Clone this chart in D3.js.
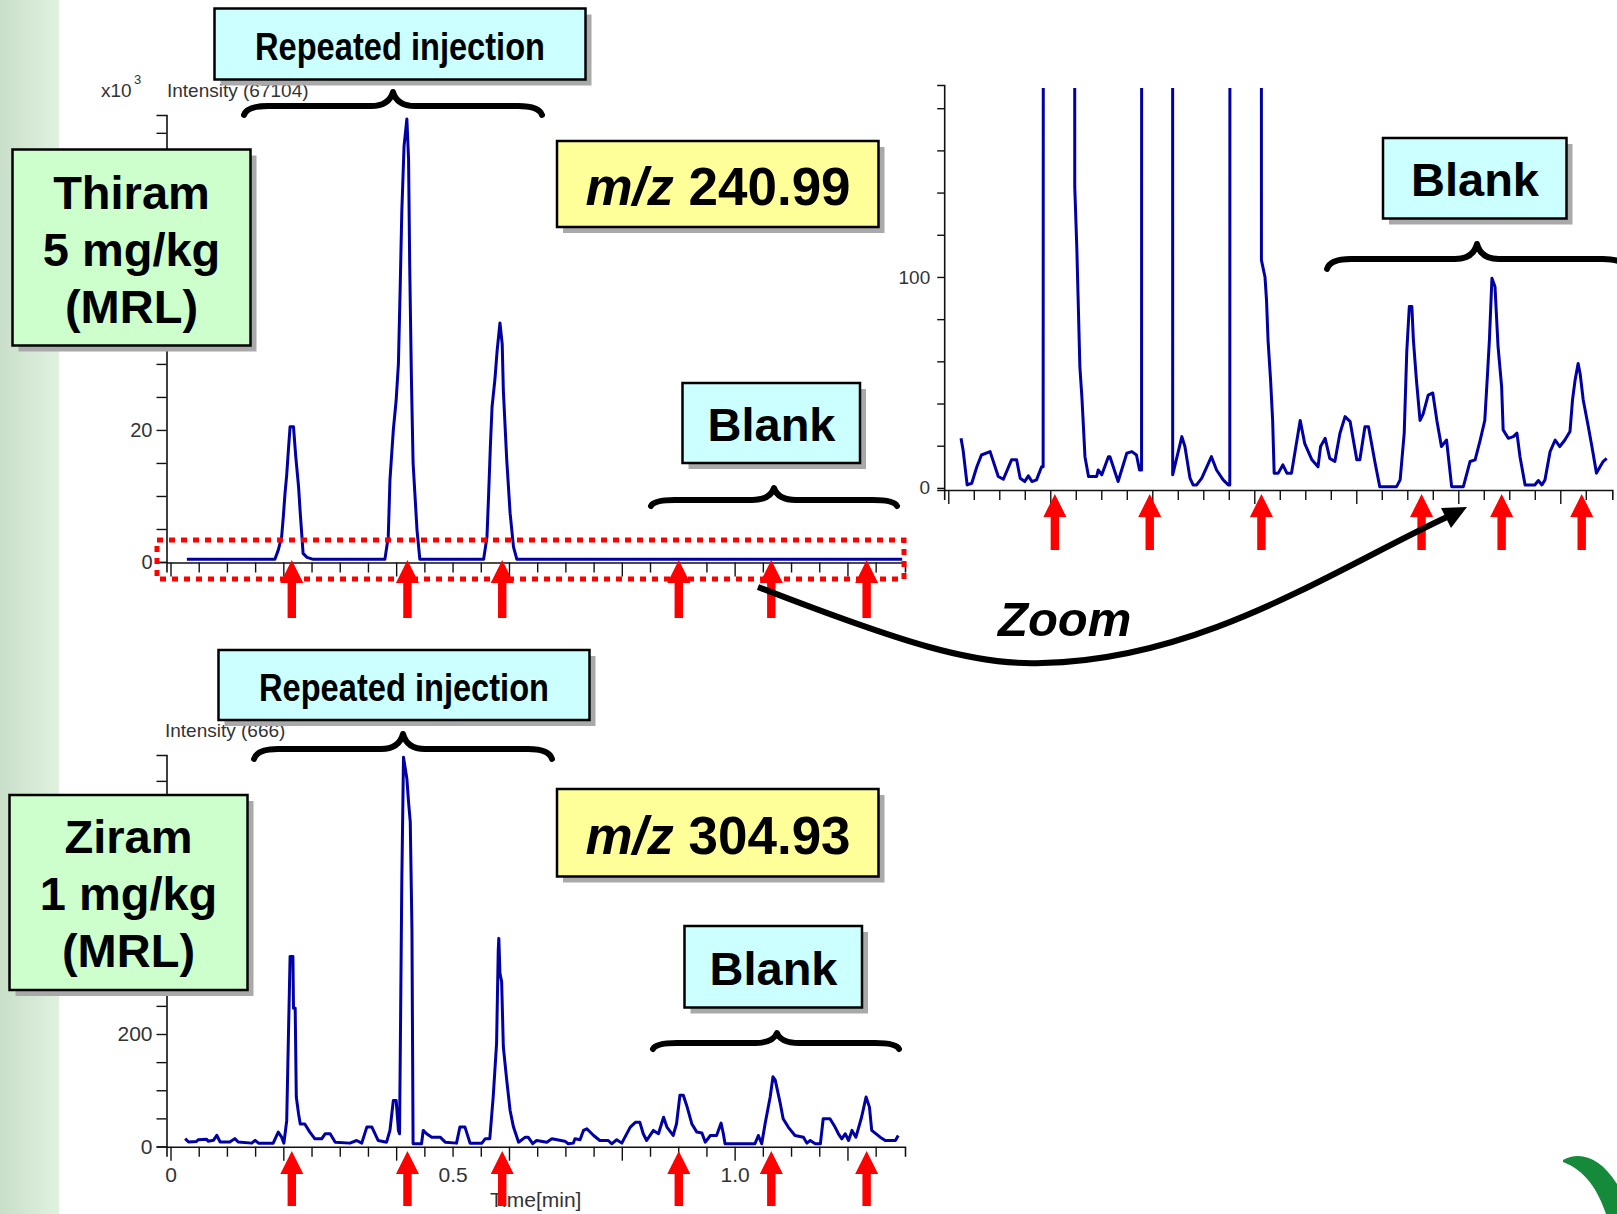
<!DOCTYPE html>
<html>
<head>
<meta charset="utf-8">
<script src="https://cdn.jsdelivr.net/npm/d3@7"></script>
<style>
  body { margin: 0; background: #fff; }
  svg { display: block; }
</style>
</head>
<body>
<svg id="slide" width="1617" height="1214"></svg>
<script>
// ---- data ----
// Thiram 5 mg/kg, m/z 240.99 : [time (min), intensity x10^3]
var thiramTrace = [
  [0.029,0.4],[0.185,0.4],[0.191,1.8],[0.197,3.8],[0.200,6.9],[0.203,10.4],[0.206,13.2],[0.209,17],[0.212,20.5],
  [0.218,20.5],[0.222,16],[0.227,11.4],[0.230,7.4],[0.233,3.8],[0.235,1.3],[0.242,0.7],[0.253,0.4],
  [0.380,0.4],[0.386,3.8],[0.389,12.4],[0.395,20],[0.400,24.5],[0.404,30],[0.407,41],[0.410,53],[0.414,63],
  [0.419,67.1],[0.422,61],[0.424,45],[0.427,28],[0.430,15],[0.437,4.8],[0.442,0.4],
  [0.555,0.4],[0.561,3.8],[0.564,10.4],[0.567,17.5],[0.570,23.5],[0.575,27.6],[0.579,32],[0.584,36.2],
  [0.588,33],[0.590,26],[0.596,15.5],[0.602,7.4],[0.608,2.3],[0.614,0.4],[1.297,0.4]
];

// zoomed view of the same run : [time (min), counts], injections run off the top
var zoomTrace = [
  [0.025,23.5],[0.029,18],[0.037,1.4],[0.046,2.2],[0.056,10],[0.065,15.6],[0.082,17.2],[0.098,5.4],[0.108,4.1],
  [0.124,13.3],[0.134,13.3],[0.141,4.6],[0.150,3],[0.157,5.7],[0.164,3],[0.173,3.8],[0.183,10],[0.186,10],
  [0.215,20500],
  [0.248,142.7],[0.252,114],[0.255,86],[0.258,57.5],[0.262,43],[0.265,29],[0.268,14.8],[0.275,5.4],[0.291,5.4],
  [0.294,8.5],[0.301,6.2],[0.314,14.8],[0.317,14.8],[0.333,3],[0.350,16.4],[0.360,17.2],[0.369,15.6],[0.375,8.5],[0.379,8.5],
  [0.420,67100],
  [0.440,6.2],[0.458,24.3],[0.464,19.6],[0.474,4.6],[0.480,1.4],[0.487,1.4],[0.497,4.6],[0.516,14.8],[0.526,8.5],
  [0.539,3.8],[0.549,1.4],[0.552,1.4],
  [0.588,36200],
  [0.614,108],[0.621,100],[0.624,89],[0.627,70],[0.632,51],[0.636,32],[0.639,7],[0.647,7],[0.656,10.9],[0.664,7],
  [0.673,7],[0.690,32],[0.699,21],[0.713,13.3],[0.725,10],[0.730,19.6],[0.739,23.5],[0.748,14],[0.758,12.5],
  [0.768,25.9],[0.778,33.8],[0.788,31.4],[0.801,13.3],[0.807,13.3],[0.817,29],[0.824,29],[0.837,11.7],[0.846,0.6],
  [0.879,0.6],[0.886,3.8],[0.894,26],[0.899,64.6],[0.904,86],[0.909,86],[0.912,70],[0.918,51],[0.925,32],[0.931,35],
  [0.941,44],[0.950,45],[0.958,32],[0.967,19.6],[0.977,22.7],[0.987,0.6],[1.010,0.6],[1.023,12.5],[1.033,13.3],
  [1.043,22.7],[1.052,32],[1.057,52.7],[1.061,70],[1.066,99.4],[1.072,95.4],[1.078,67],[1.085,48],[1.088,27.5],
  [1.098,23.5],[1.108,24.3],[1.115,26],[1.121,14.8],[1.131,1.4],[1.150,1.4],[1.157,3.5],[1.164,1.4],[1.170,3.8],
  [1.180,17.2],[1.190,22.7],[1.199,19.6],[1.209,22.7],[1.219,26.7],[1.224,41.7],[1.229,51],[1.235,59],[1.239,54],
  [1.245,41.7],[1.255,29],[1.262,19.6],[1.271,7],[1.278,10],[1.284,12.5],[1.291,14]
];

// Ziram 1 mg/kg, m/z 304.93 : [time (min), counts]
var ziramTrace = [
  [0.026,14],[0.032,8],[0.046,9],[0.049,12],[0.064,13],[0.067,9.5],[0.076,11],[0.082,20],[0.088,8],[0.105,8],
  [0.114,14],[0.120,8],[0.144,6],[0.150,11],[0.156,6],[0.182,6],[0.191,25.6],[0.197,16.7],[0.201,6],[0.206,46],
  [0.209,195],[0.212,338],[0.217,338],[0.218,246],[0.221,246],[0.223,88],[0.227,58],[0.230,40],[0.238,40],
  [0.247,25.6],[0.256,13.7],[0.268,13.7],[0.274,22.6],[0.283,22.6],[0.292,7.7],[0.318,6],[0.330,10.7],[0.339,6],
  [0.348,34.5],[0.357,34.5],[0.368,10.7],[0.383,7.7],[0.389,28.6],[0.395,82],[0.400,82],[0.404,28.6],[0.406,22.6],
  [0.408,243],[0.410,470],[0.413,692],[0.419,654],[0.422,612],[0.425,577],[0.428,386],[0.429,195],[0.430,5],
  [0.445,5],[0.448,28.6],[0.454,22.6],[0.463,16.6],[0.478,16.6],[0.487,7.7],[0.507,6],[0.513,34.5],[0.522,34.5],
  [0.531,6],[0.552,6],[0.558,14],[0.566,14],[0.572,88],[0.578,183],[0.581,350],[0.582,370],[0.584,308],[0.587,293],
  [0.590,177],[0.596,118],[0.602,64],[0.608,34.5],[0.617,7.7],[0.629,16.6],[0.634,16.6],[0.642,5],[0.649,10.7],
  [0.667,7.7],[0.676,13.7],[0.699,9.5],[0.705,5],[0.714,6],[0.717,13.7],[0.726,12],[0.732,28.6],[0.738,31.5],
  [0.750,19.6],[0.761,10.7],[0.776,10.7],[0.782,4.8],[0.791,12],[0.800,6],[0.815,34.5],[0.824,43],[0.832,43],
  [0.838,22.6],[0.844,10.7],[0.856,28.6],[0.865,22.6],[0.874,52],[0.880,34.5],[0.891,19.6],[0.897,40.5],[0.903,91],
  [0.909,91],[0.915,73],[0.924,40.5],[0.933,25.6],[0.942,24],[0.948,7.7],[0.957,19.6],[0.968,19.6],[0.976,41.7],
  [0.980,22.6],[0.983,4.8],[1.036,4.8],[1.042,19.6],[1.048,4.8],[1.054,40.5],[1.063,88],[1.068,124],[1.072,118],
  [1.081,76],[1.086,49.4],[1.095,34.5],[1.107,19.6],[1.122,16.6],[1.128,6],[1.134,10.7],[1.143,4.8],[1.152,4.8],
  [1.157,49.4],[1.169,49.4],[1.178,34.5],[1.184,22.6],[1.190,13.7],[1.196,22.6],[1.202,10.7],[1.208,28.6],
  [1.215,16.6],[1.225,52],[1.233,88],[1.239,70],[1.243,28.6],[1.258,16.6],[1.267,10.7],[1.285,10.7],[1.290,19.6]
];

// red arrows (injection times, min)
var injectionTimes = [0.215, 0.420, 0.588, 0.901, 1.065, 1.234];
var zoomArrowTimes = [0.209, 0.395, 0.614, 0.928, 1.085, 1.242];

// axis labels that are visible (the others sit under the sample boxes)
var thiramYLabels = [0, 20];
var ziramYLabels = [0, 200];
var zoomYLabels = [0, 100];
var timeLabels = [0, 0.5, 1.0];

var FONT = "'Liberation Sans', Arial, sans-serif";
var svg = d3.select('#slide');

// ---- background ----
var defs = svg.append('defs');
var grad = defs.append('linearGradient').attr('id', 'strip');
grad.append('stop').attr('offset', '0%').attr('stop-color', '#c9dfc9');
grad.append('stop').attr('offset', '100%').attr('stop-color', '#e0f1e0');
svg.append('rect').attr('width', 1617).attr('height', 1214).attr('fill', '#fff');
svg.append('rect').attr('width', 59).attr('height', 1214).attr('fill', 'url(#strip)');

// ---- scales ----
var x = d3.scaleLinear().domain([-0.0071, 1.302]).range([166.5, 905]);
var xZoom = d3.scaleLinear().domain([-0.008, 1.302]).range([944.2, 1612.3]);
var yThiram = d3.scaleLinear().domain([0, 67.7]).range([562, 115]);
var yZiram = d3.scaleLinear().domain([0, 696]).range([1146.5, 755]);
var yZoom = d3.scaleLinear().domain([-1, 191]).range([490, 85]);

var minorTimes = d3.range(0, 1.2501, 0.05);
function isLong(d) { return Math.abs(d / 0.2 - Math.round(d / 0.2)) < 1e-6; }

function styleAxis(g, size) {
  g.attr('font-family', FONT).attr('font-size', size);
  g.selectAll('text').attr('fill', '#333');
  g.selectAll('line').attr('stroke', '#111').attr('stroke-width', 1.4);
  g.select('.domain').attr('stroke', '#111').attr('stroke-width', 1.6);
}

function timeAxis(scale, yPos, withLabels, tickLen) {
  var ax = d3.axisBottom(scale).tickValues(minorTimes).tickSizeOuter(0).tickSize(tickLen).tickPadding(10)
    .tickFormat(function(d) {
      if (!withLabels) return '';
      var hit = timeLabels.find(function(l) { return Math.abs(l - d) < 1e-6; });
      return hit === undefined ? '' : (hit === 0 ? '0' : hit.toFixed(1));
    });
  var g = svg.append('g').attr('transform', 'translate(0,' + yPos + ')').call(ax);
  styleAxis(g, 21);
  g.selectAll('.tick line').attr('y2', function(d) { return isLong(d) ? tickLen + 4 : tickLen; });
  return g;
}

function intensityAxis(scale, xPos, values, labels, tickLen, pad, size) {
  var ax = d3.axisLeft(scale).tickValues(values).tickSizeOuter(0).tickSize(tickLen).tickPadding(pad)
    .tickFormat(function(d) { return labels.indexOf(d) >= 0 ? d : ''; });
  var g = svg.append('g').attr('transform', 'translate(' + xPos + ',0)').call(ax);
  styleAxis(g, size);
  return g;
}

function trace(data, xs, ys, clip) {
  var line = d3.line().x(function(d) { return xs(d[0]); }).y(function(d) { return ys(d[1]); });
  var p = svg.append('path').datum(data).attr('d', line)
    .attr('fill', 'none').attr('stroke', '#0000a4').attr('stroke-width', 3)
    .attr('stroke-linejoin', 'round');
  if (clip) p.attr('clip-path', 'url(#' + clip + ')');
}

// ---- axis titles ----
function label(txt, px, py, size) {
  return svg.append('text').attr('x', px).attr('y', py).attr('font-family', FONT)
    .attr('font-size', size).attr('fill', '#333').text(txt);
}
label('x10', 101, 97, 19);
label('3', 134, 84, 13);
label('Intensity (67104)', 167, 97, 19);
label('Intensity (666)', 165, 737, 19);
label('Time[min]', 490, 1207, 21);

// ---- Thiram chart ----
intensityAxis(yThiram, x(-0.0071), d3.range(0, 65.1, 5), thiramYLabels, 10, 4, 20);
timeAxis(x, 562.5, false, 10);
trace(thiramTrace, x, yThiram);

// ---- zoom inset ----
defs.append('clipPath').attr('id', 'zoomclip').append('rect')
  .attr('x', xZoom.range()[0]).attr('y', yZoom.range()[1] + 3)
  .attr('width', 700).attr('height', yZoom.range()[0] - yZoom.range()[1]);
intensityAxis(yZoom, xZoom.range()[0], d3.range(0, 181, 20), zoomYLabels, 7, 7, 19);
timeAxis(xZoom, 490, false, 10);
trace(zoomTrace, xZoom, yZoom, 'zoomclip');

// ---- Ziram chart ----
intensityAxis(yZiram, x(-0.0071), d3.range(0, 651, 50), ziramYLabels, 10, 4, 21);
timeAxis(x, 1146.7, true, 10);
trace(ziramTrace, x, yZiram);

// ---- red dotted frame around the baseline ----
svg.append('rect').attr('x', 157).attr('y', 540).attr('width', 747).attr('height', 39)
  .attr('fill', 'none').attr('stroke', '#ff0000').attr('stroke-width', 5).attr('stroke-dasharray', '6 6');

// ---- braces ----
function brace(x1, x2, yEnd, yBar, xTip, yTip) {
  var p = 'M' + x1 + ',' + yEnd + ' Q' + (x1 + 3) + ',' + yBar + ' ' + (x1 + 24) + ',' + yBar +
    ' L' + (xTip - 22) + ',' + yBar + ' Q' + (xTip - 4) + ',' + yBar + ' ' + xTip + ',' + yTip +
    ' Q' + (xTip + 4) + ',' + yBar + ' ' + (xTip + 22) + ',' + yBar +
    ' L' + (x2 - 24) + ',' + yBar + ' Q' + (x2 - 3) + ',' + yBar + ' ' + x2 + ',' + yEnd;
  svg.append('path').attr('d', p).attr('fill', 'none').attr('stroke', '#000')
    .attr('stroke-width', 6).attr('stroke-linecap', 'round').attr('stroke-linejoin', 'round');
}
brace(244, 542, 115, 106, 393, 92);
brace(254, 552, 759, 749, 403, 734);
brace(651, 897, 506, 500, 774, 488);
brace(653, 899, 1049, 1043, 777, 1033);
brace(1327, 1627, 269, 259, 1477, 244);

// ---- boxes ----
function box(bx, by, bw, bh, fill) {
  svg.append('rect').attr('x', bx + 6).attr('y', by + 6).attr('width', bw).attr('height', bh).attr('fill', '#a9a9a9');
  svg.append('rect').attr('x', bx).attr('y', by).attr('width', bw).attr('height', bh)
    .attr('fill', fill).attr('stroke', '#000').attr('stroke-width', 2.5);
}
function boldText(txt, cx, by, size, narrowLen) {
  var t = svg.append('text').attr('x', cx).attr('y', by).attr('text-anchor', 'middle')
    .attr('font-family', FONT).attr('font-weight', 'bold').attr('font-size', size).attr('fill', '#000').text(txt);
  if (narrowLen) {
    t.attr('x', cx - narrowLen / 2).attr('text-anchor', 'start')
      .attr('textLength', narrowLen).attr('lengthAdjust', 'spacingAndGlyphs');
  }
  return t;
}
function mzText(val, cx, by) {
  var t = svg.append('text').attr('x', cx).attr('y', by).attr('text-anchor', 'middle')
    .attr('font-family', FONT).attr('font-weight', 'bold').attr('font-size', 53).attr('fill', '#000');
  t.append('tspan').attr('font-style', 'italic').text('m/z');
  t.append('tspan').text(' ' + val);
}

box(214.5, 8.5, 371, 71, '#ccffff');
boldText('Repeated injection', 400, 60, 39, 290);
box(218.5, 650, 371, 70, '#ccffff');
boldText('Repeated injection', 404, 701, 39, 290);

box(12.5, 149.5, 238, 196, '#ccffcc');
boldText('Thiram', 131.5, 209, 47);
boldText('5 mg/kg', 131.5, 266, 47);
boldText('(MRL)', 131.5, 323, 47);

box(9.5, 795, 238, 195, '#ccffcc');
boldText('Ziram', 128.5, 853, 47);
boldText('1 mg/kg', 128.5, 910, 47);
boldText('(MRL)', 128.5, 967, 47);

box(557, 141, 321.5, 86, '#ffff99');
mzText('240.99', 718, 205);
box(557, 789, 321.5, 87.5, '#ffff99');
mzText('304.93', 718, 854);

box(682.5, 383, 177.5, 80, '#ccffff');
boldText('Blank', 771.5, 441, 47);
box(684.5, 926, 177.5, 81.5, '#ccffff');
boldText('Blank', 773.5, 985, 47);
box(1383, 138, 183.5, 80.5, '#ccffff');
boldText('Blank', 1475, 196, 47);

// ---- red arrows ----
function redArrow(px, tip, bottom) {
  var pts = [[px, tip], [px + 11.5, tip + 23], [px + 4.2, tip + 23], [px + 4.2, bottom],
             [px - 4.2, bottom], [px - 4.2, tip + 23], [px - 11.5, tip + 23]];
  svg.append('polygon').attr('points', pts.map(function(p) { return p.join(','); }).join(' ')).attr('fill', '#ff0000');
}
injectionTimes.forEach(function(t) { redArrow(x(t), 560, 618); });
injectionTimes.forEach(function(t) { redArrow(x(t), 1151, 1206); });
zoomArrowTimes.forEach(function(t) { redArrow(xZoom(t), 494, 550); });

// ---- zoom arrow ----
svg.append('path').attr('d', 'M758,587 C900,642 975,666 1042,663 C1200,660 1330,572 1447,517')
  .attr('fill', 'none').attr('stroke', '#000').attr('stroke-width', 6);
svg.append('polygon').attr('points', '1467,507 1451,528 1441,508').attr('fill', '#000');
svg.append('text').attr('x', 998).attr('y', 636).attr('font-family', FONT).attr('font-weight', 'bold')
  .attr('font-style', 'italic').attr('font-size', 49).attr('fill', '#000').text('Zoom');

// ---- corner logo swoosh ----
svg.append('path').attr('d', 'M1563,1160 C1580,1151 1600,1157 1617,1184 L1617,1214 L1606,1214 C1598,1190 1585,1170 1563,1162 Z')
  .attr('fill', '#148a3a');
</script>
</body>
</html>
